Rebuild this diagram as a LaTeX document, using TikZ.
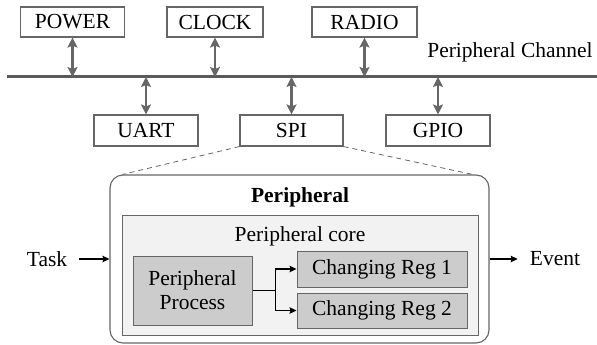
\documentclass[tikz,border=0pt]{standalone}
\usepackage{fontspec}
\setmainfont{Liberation Serif}
\usetikzlibrary{arrows.meta,calc}
\definecolor{edgegray}{HTML}{666666}
\definecolor{busgray}{HTML}{5A5A5A}
\definecolor{corefill}{HTML}{F2F2F2}
\definecolor{blockfill}{HTML}{CCCCCC}
\tikzset{
  every node/.style={font=\rmfamily\fontsize{21.5}{24}\selectfont, inner sep=0pt},
  unit/.style={draw=edgegray, line width=1.1pt, fill=white, minimum height=30pt},
  dbl/.style={draw=edgegray, line width=2.8pt,
    {Stealth[length=10pt,width=10pt,inset=2pt]}-{Stealth[length=10pt,width=10pt,inset=2pt]}},
  conn/.style={draw=black, line width=1.2pt, -{Stealth[length=7pt,width=6.5pt,inset=1pt]}},
  zoomline/.style={draw=edgegray, line width=0.8pt, dash pattern=on 5pt off 4pt},
}
\begin{document}
\begin{tikzpicture}[x=1pt,y=-1pt]
\useasboundingbox (0,0) rectangle (597,345);

% system bus
\coordinate (busL) at (7,77);
\coordinate (busR) at (597,77);
\draw[busgray, line width=3pt] (busL) -- (busR);
\node[anchor=center] (chan) at (510,52) {Peripheral Channel};

% peripherals on the bus
\node[unit, minimum width=104pt] (power) at (72.5,22) {POWER};
\node[unit, minimum width=96pt]  (clock) at (215,22) {CLOCK};
\node[unit, minimum width=105pt] (radio) at (364.5,22) {RADIO};
\node[unit, minimum width=104pt, minimum height=31pt] (uart) at (146,130.5) {UART};
\node[unit, minimum width=103pt, minimum height=31pt] (spi)  at (291.5,130.5) {SPI};
\node[unit, minimum width=104pt, minimum height=31pt] (gpio) at (438,130.5) {GPIO};

\draw[dbl] (power.south) -- (power.south |- busL);
\draw[dbl] (clock.south) -- (clock.south |- busL);
\draw[dbl] (radio.south) -- (radio.south |- busL);
\draw[dbl] (uart.north) -- (uart.north |- busL);
\draw[dbl] (spi.north)  -- (spi.north |- busL);
\draw[dbl] (gpio.north) -- (gpio.north |- busL);

% detail of one peripheral
\node[draw=edgegray, line width=1.1pt, rounded corners=13pt, fill=white,
      minimum width=379pt, minimum height=168pt] (periph) at (299.5,259) {};
\draw[zoomline] (spi.south west) -- ($(periph.north west)+(13,0)$);
\draw[zoomline] (spi.south east) -- ($(periph.north east)+(-17,0)$);
\node[font=\rmfamily\bfseries\fontsize{21.5}{24}\selectfont] (ptitle) at (300,197) {Peripheral};

\node[draw=edgegray, line width=1pt, fill=corefill,
      minimum width=356pt, minimum height=120pt] (core) at (300,275) {};
\node (ctitle) at (300,236) {Peripheral core};

\node[draw=edgegray, line width=1pt, fill=blockfill, align=center,
      minimum width=119pt, minimum height=69pt] (proc) at (192.5,290.5)
      {Peripheral\\Process};
\node[draw=edgegray, line width=1pt, fill=blockfill,
      minimum width=170pt, minimum height=36pt] (reg1) at (382,269) {Changing Reg 1};
\node[draw=edgegray, line width=1pt, fill=blockfill,
      minimum width=170pt, minimum height=35pt] (reg2) at (382,310.5) {Changing Reg 2};

\draw[line width=1.2pt] (proc.east) -- ++(23,0) coordinate (br);
\draw[conn] (br) |- (reg1.west);
\draw[conn] (br) |- (reg2.west);

% external signals
\node (task)  at (47,259)  {Task};
\node (event) at (555,259) {Event};
\draw[conn, shorten <=12pt] (task.east) -- (task.east -| periph.west);
\draw[conn, shorten >=12pt] (periph.east |- event.west) -- (event.west);
\end{tikzpicture}
\end{document}
